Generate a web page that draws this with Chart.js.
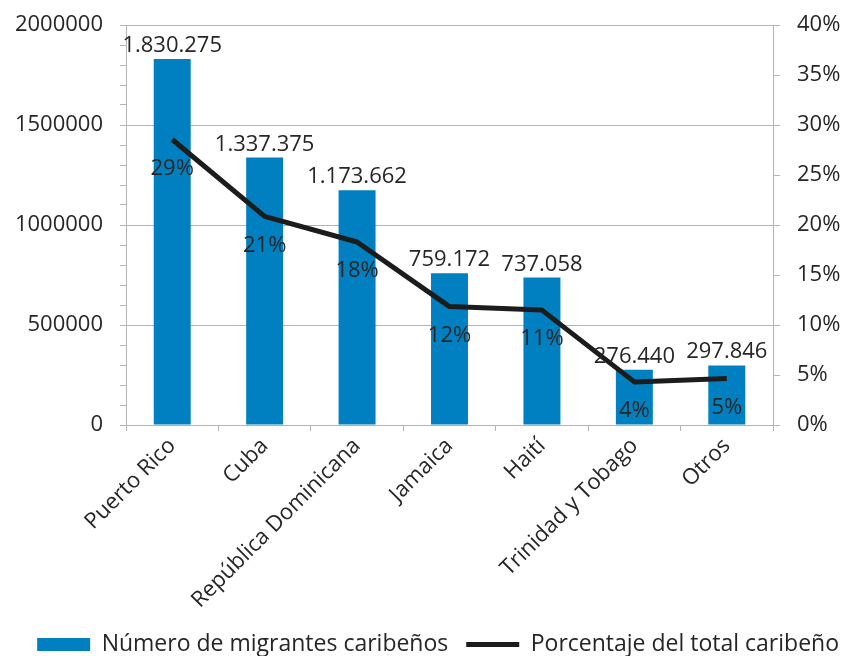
<!DOCTYPE html>
<html>
<head>
<meta charset="utf-8">
<script src="https://cdn.jsdelivr.net/npm/chart.js@4"></script>
<style>
    html, body { margin: 0; padding: 0; background: #ffffff; }
    #chart { display: block; }
</style>
</head>
<body>
<canvas id="chart" width="845" height="656"></canvas>
<script>
// ============================================
// Migrantes caribeños - bar + line chart
// ============================================

const countries = ['Puerto Rico', 'Cuba', 'República Dominicana', 'Jamaica', 'Haití', 'Trinidad y Tobago', 'Otros'];
const migrants = [1830275, 1337375, 1173662, 759172, 737058, 276440, 297846];
const shares = [28.55, 20.86, 18.3, 11.84, 11.49, 4.31, 4.65];

const seriesNames = ['Número de migrantes caribeños', 'Porcentaje del total caribeño'];

// Colors
const barColor = '#0080c0';
const lineColor = '#1c1c1c';
const axisColor = '#b4b4b4';
const textColor = '#262626';
const fontFamily = '"Open Sans", sans-serif';

// 1830275 -> 1.830.275
function formatThousands(v) {
    return String(v).replace(/\B(?=(\d{3})+(?!\d))/g, '.');
}

// Value labels drawn on top of everything
const valueLabels = {
    id: 'valueLabels',
    afterDatasetsDraw(chart) {
        const ctx = chart.ctx;
        ctx.save();
        ctx.fillStyle = textColor;
        ctx.font = '22px ' + fontFamily;
        ctx.textAlign = 'center';

        const barMeta = chart.getDatasetMeta(0);
        ctx.textBaseline = 'alphabetic';
        barMeta.data.forEach((bar, i) => {
            ctx.fillText(formatThousands(migrants[i]), bar.x, bar.y - 7);
        });

        const lineMeta = chart.getDatasetMeta(1);
        ctx.textBaseline = 'middle';
        lineMeta.data.forEach((pt, i) => {
            ctx.fillText(Math.round(shares[i]) + '%', pt.x, pt.y + 29);
        });
        ctx.restore();
    }
};

// the tick padding would otherwise push the plot area down
function fixVertical(width) {
    return (scale) => {
        scale.width = width;
        scale.paddingTop = 12;
        scale.paddingBottom = 0;
    };
}

const chart = new Chart(document.getElementById('chart'), {
    type: 'bar',
    data: {
        labels: countries,
        datasets: [
            {
                label: seriesNames[0] + '  ',
                data: migrants,
                backgroundColor: barColor,
                borderWidth: 0,
                categoryPercentage: 1,
                barPercentage: 0.4,
                pointStyle: 'rect',
                yAxisID: 'y',
                order: 1
            },
            {
                type: 'line',
                label: seriesNames[1],
                data: shares,
                borderColor: lineColor,
                backgroundColor: lineColor,
                borderWidth: 5,
                borderJoinStyle: 'round',
                pointRadius: 0,
                pointHoverRadius: 0,
                pointStyle: 'line',
                tension: 0,
                yAxisID: 'y1',
                order: 0
            }
        ]
    },
    options: {
        responsive: false,
        animation: false,
        layout: {
            padding: { top: 25, left: 0, right: 0, bottom: -10 }
        },
        plugins: {
            tooltip: { enabled: false },
            legend: {
                position: 'bottom',
                align: 'end',
                labels: {
                    usePointStyle: true,
                    pointStyleWidth: 53,
                    boxHeight: 13,
                    padding: 6,
                    color: textColor,
                    font: { family: fontFamily, size: 23 },
                    sort: (a, b) => a.datasetIndex - b.datasetIndex
                }
            }
        },
        scales: {
            x: {
                grid: {
                    offset: true,
                    drawOnChartArea: false,
                    color: axisColor,
                    tickLength: 6
                },
                border: { color: axisColor },
                ticks: {
                    color: textColor,
                    font: { family: fontFamily, size: 22 },
                    minRotation: 45,
                    maxRotation: 45,
                    autoSkip: false,
                    padding: 2
                },
                afterFit(scale) { scale.height = 202; }
            },
            y: {
                position: 'left',
                min: 0,
                max: 2000000,
                grid: {
                    color: (c) => (c.tick && c.tick.value % 500000 === 0) ? axisColor : 'rgba(0,0,0,0)',
                    tickColor: axisColor,
                    tickLength: 6
                },
                border: { color: axisColor },
                ticks: {
                    stepSize: 100000,
                    autoSkip: false,
                    color: textColor,
                    font: { family: fontFamily, size: 22 },
                    padding: 17,
                    callback: (v) => v % 500000 === 0 ? String(v) : ''
                },
                afterFit: fixVertical(126)
            },
            y1: {
                position: 'right',
                min: 0,
                max: 40,
                grid: {
                    drawOnChartArea: false,
                    color: axisColor,
                    tickLength: 7
                },
                border: { color: axisColor },
                ticks: {
                    stepSize: 5,
                    color: textColor,
                    font: { family: fontFamily, size: 22 },
                    padding: 17,
                    callback: (v) => v + '%'
                },
                afterFit: fixVertical(72)
            }
        }
    },
    plugins: [valueLabels]
});
</script>
</body>
</html>
